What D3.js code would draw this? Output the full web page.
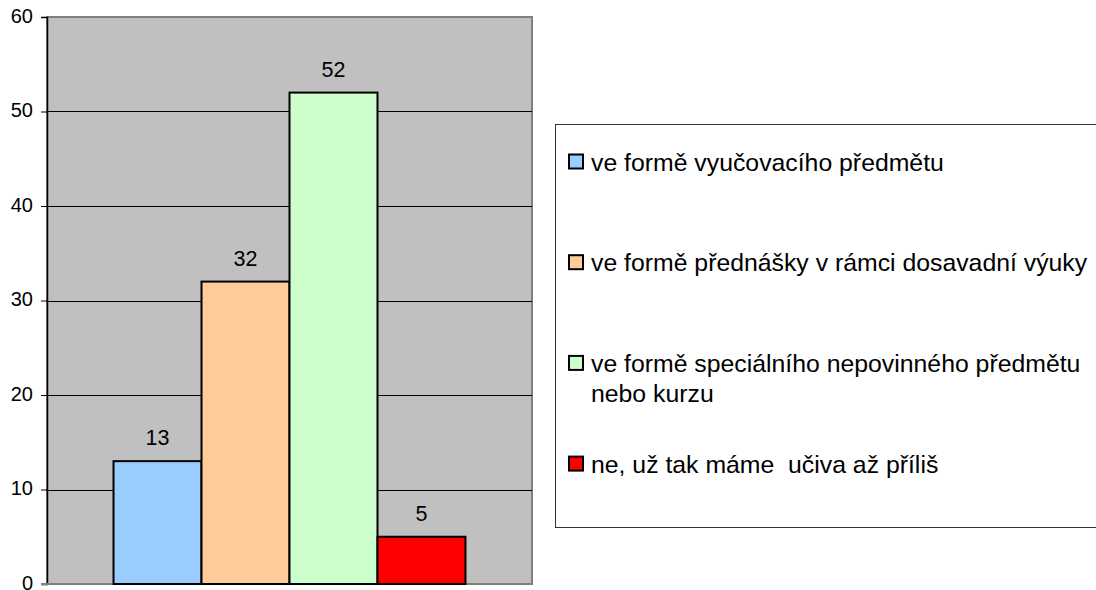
<!DOCTYPE html>
<html>
<head>
<meta charset="utf-8">
<script src="https://cdn.jsdelivr.net/npm/d3@7"></script>
<style>
  html, body { margin: 0; padding: 0; background: #fff; }
  svg { display: block; font-family: "Liberation Sans", Arial, sans-serif; }
  .legend-text { white-space: pre; }
</style>
</head>
<body>
<svg id="chart" width="1096" height="590"></svg>
<script>
// ---- data ----
const seriesNames = [
  "ve formě vyučovacího předmětu",
  "ve formě přednášky v rámci dosavadní výuky",
  "ve formě speciálního nepovinného předmětu\nnebo kurzu",
  "ne, už tak máme  učiva až příliš"
];
const seriesValues = [13, 32, 52, 5];
const seriesColors = ["#99CCFF", "#FFCC99", "#CCFFCC", "#FF0000"];
const yTicks = [0, 10, 20, 30, 40, 50, 60];

// ---- layout ----
const svg = d3.select("#chart");
const plot = { left: 47, top: 17, right: 532, bottom: 584 };

const y = d3.scaleLinear().domain([0, 60]).range([plot.bottom, plot.top]);
const outer = d3.scaleBand().domain(["g"]).range([plot.left, plot.right])
  .paddingInner(0).paddingOuter(0.189);
const x = d3.scaleBand().domain(d3.range(seriesValues.length))
  .range([outer("g"), outer("g") + outer.bandwidth()]).padding(0);

// plot background
svg.append("rect")
  .attr("x", plot.left).attr("y", plot.top)
  .attr("width", plot.right - plot.left).attr("height", plot.bottom - plot.top)
  .attr("fill", "#C0C0C0").attr("stroke", "#808080").attr("stroke-width", 2);

// gridlines
svg.append("g").selectAll("line")
  .data(yTicks.filter(t => t > 0 && t < 60))
  .join("line")
  .attr("x1", plot.left).attr("x2", plot.right)
  .attr("y1", d => Math.round(y(d)) + 0.5).attr("y2", d => Math.round(y(d)) + 0.5)
  .attr("stroke", "#000").attr("stroke-width", 1);

// y axis
const yAxis = svg.append("g")
  .attr("transform", `translate(${plot.left},0)`)
  .call(d3.axisLeft(y).tickValues(yTicks).tickSize(6).tickPadding(8).tickFormat(d3.format("d")));
yAxis.select(".domain").attr("stroke", "#000").attr("stroke-width", 1.5);
yAxis.selectAll(".tick line").attr("stroke", "#000").attr("stroke-width", 1);
yAxis.selectAll(".tick text").attr("font-size", 20).attr("fill", "#000")
  .attr("dy", "0.27em")
  .attr("font-family", "Liberation Sans, Arial, sans-serif");

// bottom axis line
svg.append("line")
  .attr("x1", plot.left - 6).attr("x2", plot.right)
  .attr("y1", plot.bottom).attr("y2", plot.bottom)
  .attr("stroke", "#808080").attr("stroke-width", 2);

// bars
svg.append("g").selectAll("rect")
  .data(seriesValues)
  .join("rect")
  .attr("x", (d, i) => x(i))
  .attr("y", d => y(d))
  .attr("width", x.bandwidth())
  .attr("height", d => y(0) - y(d))
  .attr("fill", (d, i) => seriesColors[i])
  .attr("stroke", "#000").attr("stroke-width", 2);

// value labels
svg.append("g").selectAll("text")
  .data(seriesValues)
  .join("text")
  .attr("x", (d, i) => x(i) + x.bandwidth() / 2)
  .attr("y", d => y(d) - 16)
  .attr("text-anchor", "middle")
  .attr("font-size", 21.5)
  .attr("fill", "#000")
  .text(d => d);

// legend
const legend = svg.append("g");
legend.append("rect")
  .attr("x", 555.5).attr("y", 124.5)
  .attr("width", 560).attr("height", 403)
  .attr("fill", "#fff").attr("stroke", "#333").attr("stroke-width", 1);

const items = legend.selectAll("g.item")
  .data(seriesNames)
  .join("g")
  .attr("class", "item")
  .attr("transform", (d, i) => `translate(0,${162 + i * 100.7})`);

items.append("rect")
  .attr("x", 569).attr("y", -7.5)
  .attr("width", 14).attr("height", 14)
  .attr("fill", (d, i) => seriesColors[i])
  .attr("stroke", "#000").attr("stroke-width", 2);

items.append("text")
  .attr("class", "legend-text")
  .attr("xml:space", "preserve")
  .attr("font-size", 24.8)
  .attr("fill", "#000")
  .selectAll("tspan")
  .data(d => d.split("\n"))
  .join("tspan")
  .attr("x", 591)
  .attr("y", (d, j) => 8.5 + j * 30)
  .text(d => d);
</script>
</body>
</html>
